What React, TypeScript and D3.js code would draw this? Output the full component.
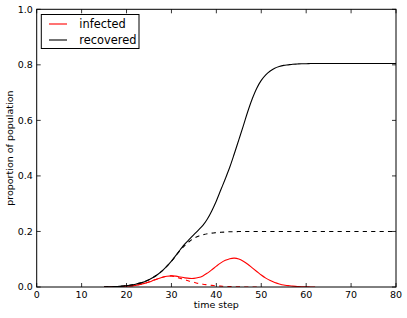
import React from "react";
import * as d3 from "d3";

const time = d3.range(15, 81);
const recoveredSolid = [
  0.000, 0.001, 0.001, 0.002, 0.003, 0.005, 0.007, 0.010, 0.014, 0.019,
  0.026, 0.035, 0.046, 0.059, 0.075, 0.093, 0.114, 0.135, 0.155, 0.172,
  0.189, 0.205, 0.222, 0.245, 0.275, 0.310, 0.350, 0.390, 0.432, 0.480,
  0.530, 0.580, 0.632, 0.678, 0.716, 0.744, 0.764, 0.778, 0.788, 0.794,
  0.798, 0.800, 0.802, 0.803, 0.804, 0.804, 0.805, 0.805, 0.805, 0.805,
  0.805, 0.805, 0.805, 0.805, 0.805, 0.805, 0.805, 0.805, 0.805, 0.805,
  0.805, 0.805, 0.805, 0.805, 0.805, 0.805,
];
const recoveredDashed = [
  0.000, 0.001, 0.001, 0.002, 0.003, 0.005, 0.007, 0.010, 0.014, 0.019,
  0.026, 0.035, 0.046, 0.059, 0.075, 0.093, 0.113, 0.133, 0.150, 0.164,
  0.175, 0.183, 0.188, 0.192, 0.194, 0.196, 0.197, 0.198, 0.199, 0.199,
  0.200, 0.200, 0.200, 0.200, 0.200, 0.200, 0.200, 0.200, 0.200, 0.200,
  0.200, 0.200, 0.200, 0.200, 0.200, 0.200, 0.200, 0.200, 0.200, 0.200,
  0.200, 0.200, 0.200, 0.200, 0.200, 0.200, 0.200, 0.200, 0.200, 0.200,
  0.200, 0.200, 0.200, 0.200, 0.200, 0.200,
];
const infectedTime = d3.range(15, 63);
const infectedSolid = [
  0.000, 0.000, 0.001, 0.001, 0.002, 0.003, 0.004, 0.006, 0.009, 0.013,
  0.018, 0.024, 0.030, 0.035, 0.039, 0.040, 0.039, 0.036, 0.033, 0.031,
  0.031, 0.034, 0.040, 0.050, 0.062, 0.075, 0.087, 0.096, 0.102, 0.104,
  0.101, 0.093, 0.082, 0.069, 0.056, 0.043, 0.032, 0.023, 0.016, 0.011,
  0.007, 0.005, 0.003, 0.002, 0.001, 0.001, 0.000, 0.000,
];
const infectedDashedTime = d3.range(15, 51);
const infectedDashed = [
  0.000, 0.000, 0.001, 0.001, 0.002, 0.003, 0.004, 0.006, 0.009, 0.013,
  0.018, 0.024, 0.030, 0.035, 0.039, 0.040, 0.036, 0.031, 0.026, 0.021,
  0.017, 0.013, 0.010, 0.008, 0.006, 0.004, 0.003, 0.002, 0.002, 0.001,
  0.001, 0.000, 0.000, 0.000, 0.000, 0.000,
];
const xTicks = [0, 10, 20, 30, 40, 50, 60, 70, 80];
const yTicks = [0, 0.2, 0.4, 0.6, 0.8, 1.0];
const legendLabels = ["infected", "recovered"];
const legendColors = ["#ff0000", "#000000"];

const W = 407;
const H = 318;
const left = 36.7, right = 396, top = 9.3, bottom = 287;
const font = "'DejaVu Sans', sans-serif";

export default function App() {
  const x = d3.scaleLinear().domain([0, 80]).range([left, right]);
  const y = d3.scaleLinear().domain([0, 1]).range([bottom, top]);
  const mk = (ts: number[], vs: number[]) =>
    d3
      .line<number>()
      .x((_, i) => x(ts[i]))
      .y((v) => y(v))
      .curve(d3.curveCatmullRom.alpha(0.5))(vs) || "";
  const tl = 4;
  return (
    <svg
      width={W}
      height={H}
      style={{ position: "absolute", left: 0, top: 0, background: "#fff" }}
      fontFamily={font}
    >
      <rect x={0} y={0} width={W} height={H} fill="#fff" />
      <defs>
        <clipPath id="clip">
          <rect x={left} y={top} width={right - left} height={bottom - top} />
        </clipPath>
      </defs>
      <g clipPath="url(#clip)">
        <path d={mk(infectedTime, infectedSolid)} fill="none" stroke="#ff0000" strokeWidth={1.1} />
        <path d={mk(infectedDashedTime, infectedDashed)} fill="none" stroke="#ff0000" strokeWidth={1.1} strokeDasharray="4.2,4.2" />
        <path d={mk(time, recoveredSolid)} fill="none" stroke="#000" strokeWidth={1.1} />
        <path d={mk(time, recoveredDashed)} fill="none" stroke="#000" strokeWidth={1.1} strokeDasharray="4.2,4.2" />
      </g>
      <rect x={left} y={top} width={right - left} height={bottom - top} fill="none" stroke="#000" strokeWidth={1} />
      {xTicks.map((t) => (
        <g key={"x" + t}>
          <line x1={x(t)} x2={x(t)} y1={bottom} y2={bottom - tl} stroke="#000" strokeWidth={0.8} />
          <line x1={x(t)} x2={x(t)} y1={top} y2={top + tl} stroke="#000" strokeWidth={0.8} />
          <text x={x(t)} y={298.4} fontSize={9.5} textAnchor="middle" fill="#000">
            {t}
          </text>
        </g>
      ))}
      {yTicks.map((t) => (
        <g key={"y" + t}>
          <line x1={left} x2={left + tl} y1={y(t)} y2={y(t)} stroke="#000" strokeWidth={0.8} />
          <line x1={right} x2={right - tl} y1={y(t)} y2={y(t)} stroke="#000" strokeWidth={0.8} />
          <text x={32.8} y={y(t) + 3.4} fontSize={9.5} textAnchor="end" fill="#000">
            {t.toFixed(1)}
          </text>
        </g>
      ))}
      <text x={(left + right) / 2} y={308.4} fontSize={9.5} textAnchor="middle" fill="#000">
        time step
      </text>
      <text
        transform={`translate(12.5,${(top + bottom) / 2}) rotate(-90)`}
        fontSize={9.5}
        textAnchor="middle"
        fill="#000"
      >
        proportion of population
      </text>
      <rect x={41.3} y={14.5} width={97.7} height={34} fill="#fff" stroke="#000" strokeWidth={1} />
      {legendLabels.map((l, i) => (
        <g key={l}>
          <line x1={49} x2={67} y1={24 + i * 16} y2={24 + i * 16} stroke={legendColors[i]} strokeWidth={1.1} />
          <text x={79.3} y={28.3 + i * 16} fontSize={11.4} fill="#000">
            {l}
          </text>
        </g>
      ))}
    </svg>
  );
}
